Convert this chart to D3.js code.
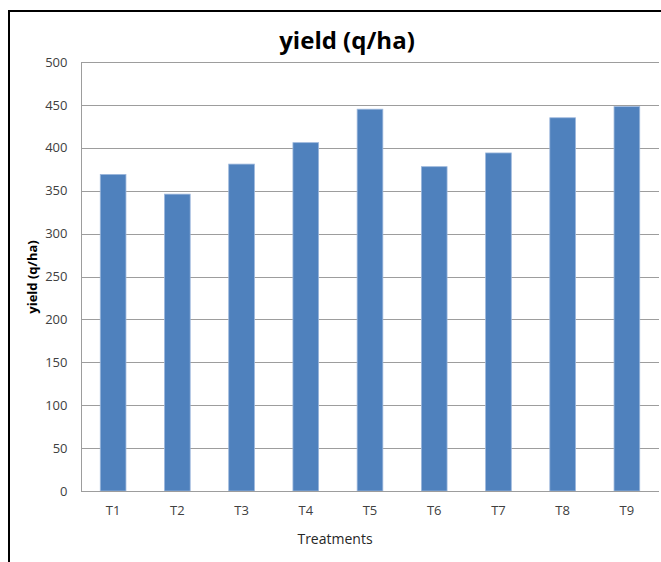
<!DOCTYPE html>
<html>
<head>
<meta charset="utf-8">
<script src="https://cdn.jsdelivr.net/npm/d3@7"></script>
<style>
  html, body { margin: 0; padding: 0; background: #fff; }
  svg { display: block; }
  text { font-family: "Open Sans", "Noto Sans", sans-serif; }
</style>
</head>
<body>
<svg id="chart" width="661" height="562"></svg>
<script>
// Treatment labels and mean yield (q/ha) per treatment
const treatments = ["T1", "T2", "T3", "T4", "T5", "T6", "T7", "T8", "T9"];
const yieldValues = [369, 346, 381, 406, 445, 378, 394, 435, 448];
const yTicks = [0, 50, 100, 150, 200, 250, 300, 350, 400, 450, 500];

const chartTitle = "yield (q/ha)";
const yTitle = "yield (q/ha)";
const xTitle = "Treatments";

const svg = d3.select("#chart");
const W = 661, H = 562;
const plot = { left: 81, right: 659, top: 62, bottom: 491 };

// Outer frame (only the top and left edges fall inside the canvas)
svg.append("path")
  .attr("d", `M9,${H} L9,11 L${W},11`)
  .attr("fill", "none")
  .attr("stroke", "#000")
  .attr("stroke-width", 2);

const x = d3.scaleBand()
  .domain(treatments)
  .range([plot.left, plot.right])
  .paddingInner(0.6)
  .paddingOuter(0.3);

const y = d3.scaleLinear()
  .domain([0, 500])
  .range([plot.bottom, plot.top]);

// Horizontal gridlines
svg.append("g")
  .selectAll("line")
  .data(yTicks.filter(d => d > 0))
  .join("line")
  .attr("x1", plot.left)
  .attr("x2", plot.right)
  .attr("y1", d => Math.round(y(d)) + 0.5)
  .attr("y2", d => Math.round(y(d)) + 0.5)
  .attr("stroke", "#9d9d9d")
  .attr("stroke-width", 1);

// Bars
svg.append("g")
  .selectAll("rect")
  .data(treatments.map((t, i) => ({ t, v: yieldValues[i] })))
  .join("rect")
  .attr("x", d => x(d.t))
  .attr("y", d => y(d.v))
  .attr("width", x.bandwidth())
  .attr("height", d => y(0) - y(d.v))
  .attr("fill", "#4f81bd")
  .attr("stroke", "#9cb7dc")
  .attr("stroke-width", 0.8);

// Y axis
const yAxis = d3.axisLeft(y)
  .tickValues(yTicks)
  .tickSize(0)
  .tickPadding(14);
const gy = svg.append("g")
  .attr("transform", `translate(${plot.left + 0.5},0)`)
  .call(yAxis);
gy.select(".domain").attr("stroke", "#9d9d9d").attr("d", `M0,${plot.top}V${plot.bottom}`);
gy.selectAll("text")
  .attr("font-size", 13)
  .attr("fill", "#404040")
  .style("font-family", "'Open Sans', sans-serif");

// X axis
const xAxis = d3.axisBottom(x).tickSize(0).tickPadding(14);
const gx = svg.append("g")
  .attr("transform", `translate(0,${plot.bottom + 0.5})`)
  .call(xAxis);
gx.select(".domain").attr("stroke", "#9d9d9d").attr("d", `M${plot.left},0H${plot.right}`);
gx.selectAll("text")
  .attr("font-size", 13)
  .attr("fill", "#404040")
  .style("font-family", "'Open Sans', sans-serif");

// Chart title
svg.append("text")
  .attr("x", 347)
  .attr("y", 49)
  .attr("text-anchor", "middle")
  .attr("font-size", 24)
  .attr("font-weight", "bold")
  .attr("fill", "#000")
  .text(chartTitle);

// Axis titles
svg.append("text")
  .attr("transform", `translate(37,277) rotate(-90)`)
  .attr("text-anchor", "middle")
  .attr("font-size", 13)
  .attr("font-weight", "bold")
  .attr("fill", "#000")
  .text(yTitle);

svg.append("text")
  .attr("x", 335)
  .attr("y", 544)
  .attr("text-anchor", "middle")
  .attr("font-size", 14)
  .attr("fill", "#262626")
  .text(xTitle);
</script>
</body>
</html>
